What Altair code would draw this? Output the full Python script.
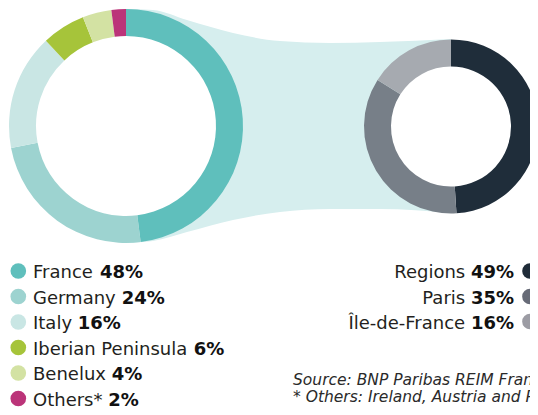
import altair as alt
import pandas as pd

# ---- data ----
left_labels = ["France", "Germany", "Italy", "Iberian Peninsula", "Benelux", "Others*"]
left_values = [48, 24, 16, 6, 4, 2]
left_colors = ["#5FBFBC", "#9DD3D0", "#C9E6E4", "#A6C43A", "#D3E2A3", "#BB3479"]

right_labels = ["Regions", "Paris", "Île-de-France"]
right_values = [49, 35, 16]
right_colors = ["#1F2D3A", "#777F88", "#A6AAB0"]
right_dot_colors = ["#1F2B38", "#676B77", "#9C9CA4"]

# connecting band (x, top edge, bottom edge) in chart units
band_x = [118, 145, 179, 225, 272, 322, 372, 443]
band_top = [1, 2, 12, 25, 33, 35, 34, 31]
band_bottom = [235, 233, 224, 212, 204, 201, 201, 205]

source_lines = ["Source: BNP Paribas REIM France", "* Others: Ireland, Austria and Poland"]

# ---- layout constants ----
W, H = 522, 399
FONT = "DejaVu Sans"
FS = 18
TEXT_COLOR = "#231F20"

REG = {' ': 0.318, '*': 0.5, '%': 0.95, '-': 0.361, 'B': 0.686, 'F': 0.575, 'G': 0.775,
       'I': 0.295, 'Î': 0.295, 'O': 0.787, 'P': 0.603, 'R': 0.695, 'a': 0.613, 'b': 0.635,
       'c': 0.55, 'd': 0.635, 'e': 0.615, 'g': 0.635, 'h': 0.634, 'i': 0.278, 'l': 0.278,
       'm': 0.974, 'n': 0.634, 'o': 0.612, 'r': 0.411, 's': 0.521, 't': 0.392, 'u': 0.634,
       'x': 0.592, 'y': 0.592}
for d in "0123456789":
    REG[d] = 0.636
BOLD = {'%': 1.002}
for d in "0123456789":
    BOLD[d] = 0.696


def tw(s, table, fs):
    return sum(table.get(c, 0.6) for c in s) * fs


xs = alt.Scale(domain=[0, W], nice=False, zero=False)
ys = alt.Scale(domain=[0, H], nice=False, zero=False, reverse=True)


def X(f):
    return alt.X(f, type="quantitative", scale=xs, axis=None)


def Y(f):
    return alt.Y(f, type="quantitative", scale=ys, axis=None)


# band
band_df = pd.DataFrame({"x": band_x, "top": band_top, "bottom": band_bottom})
band = alt.Chart(band_df).mark_area(interpolate="monotone", color="#D6EEEE", opacity=1).encode(
    x=X("x"), y=Y("top"), y2=alt.Y2("bottom")
)

# white holes
holes_df = pd.DataFrame({"x": [118, 443], "y": [118, 118.5], "s": [182 ** 2, 122 ** 2]})
holes = alt.Chart(holes_df).mark_circle(color="white", opacity=1).encode(
    x=X("x"), y=Y("y"), size=alt.Size("s:Q", scale=None, legend=None)
)

# donuts
ldf = pd.DataFrame({"label": left_labels, "v": left_values, "c": left_colors,
                    "i": list(range(len(left_labels)))})
rdf = pd.DataFrame({"label": right_labels, "v": right_values, "c": right_colors,
                    "i": list(range(len(right_labels)))})

left_donut = alt.Chart(ldf).mark_arc(x=118, y=118, radius=117, radius2=90).encode(
    theta=alt.Theta("v:Q", stack=True),
    order=alt.Order("i:Q"),
    color=alt.Color("c:N", scale=None, legend=None),
)
right_donut = alt.Chart(rdf).mark_arc(x=443, y=118.5, radius=87, radius2=60).encode(
    theta=alt.Theta("v:Q", stack=True),
    order=alt.Order("i:Q"),
    color=alt.Color("c:N", scale=None, legend=None),
)

# legends
left_rows = [263, 288.5, 314, 339.5, 365, 390.5]
lx_dot, lx_text = 10.3, 25
left_leg = pd.DataFrame({
    "name": left_labels,
    "pct": [f"{v}%" for v in left_values],
    "c": left_colors,
    "y": left_rows,
    "yt": [r + 7.3 for r in left_rows],
    "xd": [lx_dot] * len(left_labels),
    "xn": [lx_text] * len(left_labels),
    "xp": [lx_text + tw(n + " ", REG, FS) for n in left_labels],
})

right_rows = [263, 288.5, 313.5]
rx_dot, rx_end = 522, 506
right_leg = pd.DataFrame({
    "name": right_labels,
    "pct": [f"{v}%" for v in right_values],
    "c": right_dot_colors,
    "y": right_rows,
    "yt": [r + 7.3 for r in right_rows],
    "xd": [rx_dot] * len(right_labels),
    "xp": [rx_end] * len(right_labels),
    "xn": [rx_end - tw(f"{v}%", BOLD, FS) - REG[' '] * FS for v in right_values],
})


def legend_layers(df, align):
    dots = alt.Chart(df).mark_circle(size=245, opacity=1).encode(
        x=X("xd"), y=Y("y"), color=alt.Color("c:N", scale=None, legend=None)
    )
    names = alt.Chart(df).mark_text(align=align, baseline="alphabetic", font=FONT,
                                    fontSize=FS, color=TEXT_COLOR, fontWeight="normal").encode(
        x=X("xn"), y=Y("yt"), text="name:N"
    )
    pcts = alt.Chart(df).mark_text(align=align, baseline="alphabetic", font=FONT,
                                   fontSize=FS, color="#111111", fontWeight="bold").encode(
        x=X("xp"), y=Y("yt"), text="pct:N"
    )
    return [dots, names, pcts]


src_df = pd.DataFrame({"t": source_lines, "x": [285, 285], "y": [377, 393.5]})
source = alt.Chart(src_df).mark_text(align="left", baseline="alphabetic", font=FONT,
                                     fontSize=15.5, fontStyle="italic", color="#2a2a2a").encode(
    x=X("x"), y=Y("y"), text="t:N"
)

chart = alt.layer(
    band, holes, left_donut, right_donut,
    *legend_layers(left_leg, "left"),
    *legend_layers(right_leg, "right"),
    source,
).resolve_scale(theta="independent").properties(
    width=W, height=H, autosize=alt.AutoSizeParams(type="none"), padding=0
).configure_view(stroke=None)

chart.save("out.html", embed_options={"renderer": "svg", "actions": False})
